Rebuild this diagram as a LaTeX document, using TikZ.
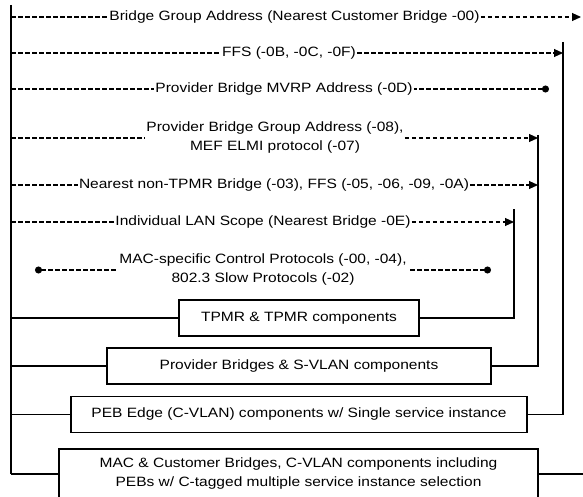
\documentclass[tikz,border=0pt]{standalone}
\usepackage{fontspec}
\setmainfont{Liberation Sans}[FakeStretch=1.15]
\usetikzlibrary{arrows.meta}

\begin{document}
\begin{tikzpicture}[x=1pt, y=-1pt]
\tikzset{every node/.style={font=\fontsize{13.5}{19}\selectfont, align=center},
  addr/.style={inner sep=1pt},
  comp/.style={draw, line width=1.3pt, minimum height=36pt, inner sep=0pt},
  dashline/.style={dash pattern=on 4.5pt off 2.5pt, line width=1.1pt},
  bar/.style={line width=1.8pt},
  arr/.style={-{Triangle[length=9pt, width=8pt]}},
  dotend/.style={{Circle[length=7pt]}-}}

% Normalize bounding box
\useasboundingbox (0,0) rectangle (583,497);
\clip (0,0) rectangle (583,497);

% bars
\coordinate (LT) at (11,5);
\coordinate (LB) at (11,474);
\coordinate (B1) at (514,209);
\coordinate (B2) at (538,135);
\coordinate (B3) at (563,42);
\coordinate (RT) at (581,17);
\coordinate (RB) at (585,474);
\coordinate (MV) at (549,89);
\coordinate (SL) at (35,270);
\coordinate (SR) at (491,270);

% addresses
\node[addr] (BGA) at (294.5,17) {Bridge Group Address (Nearest Customer Bridge -00)};
\node[addr] (FFS) at (289,53) {FFS (-0B, -0C, -0F)};
\node[addr] (MVRP) at (284,89) {Provider Bridge MVRP Address (-0D)};
\node[addr] (PBGA) at (275,138) {Provider Bridge Group Address (-08),\\MEF ELMI protocol (-07)};
\node[addr] (NTPMR) at (274,185) {Nearest non-TPMR Bridge (-03), FFS (-05, -06, -09, -0A)};
\node[addr] (LAN) at (263,222) {Individual LAN Scope (Nearest Bridge -0E)};
\node[addr] (SLOW) at (263,270) {MAC-specific Control Protocols (-00, -04),\\802.3 Slow Protocols (-02)};

% components
\node[comp, minimum width=240pt] (TPMR) at (299,318) {TPMR \& TPMR components};
\node[comp, minimum width=384pt] (PB) at (299,366) {Provider Bridges \& S-VLAN components};
\node[comp, minimum width=456pt] (PEB) at (299,414.5) {PEB Edge (C-VLAN) components w/ Single service instance};
\node[comp, minimum width=479pt, minimum height=50pt] (MAC) at (298.5,474) {MAC \& Customer Bridges, C-VLAN components including\\PEBs w/ C-tagged multiple service instance selection};

\draw[bar] (LT) -- (LB);
\draw[bar] (LB |- TPMR) -- (TPMR.west);
\draw[bar] (LB |- PB) -- (PB.west);
\draw[bar] (LB |- PEB) -- (PEB.west);
\draw[bar] (LB) -- (MAC.west);
\draw[bar] (B1) |- (TPMR.east);
\draw[bar] (B2) |- (PB.east);
\draw[bar] (B3) |- (PEB.east);
\draw[bar] (MAC.east) -- (RB);

\draw[dashline] (LT |- BGA) -- (BGA.west);
\draw[dashline, arr] (BGA.east) -- (RT);
\draw[dashline] (LT |- FFS) -- (FFS.west);
\draw[dashline, arr] (FFS.east) -- (B3 |- FFS);
\draw[dashline] (LT |- MVRP) -- (MVRP.west);
\draw[dashline, dotend] (MV) -- (MVRP.east);
\draw[dashline] (LT |- PBGA) -- (PBGA.west);
\draw[dashline, arr] (PBGA.east) -- (B2 |- PBGA);
\draw[dashline] (LT |- NTPMR) -- (NTPMR.west);
\draw[dashline, arr] (NTPMR.east) -- (B2 |- NTPMR);
\draw[dashline] (LT |- LAN) -- (LAN.west);
\draw[dashline, arr] (LAN.east) -- (B1 |- LAN);
\draw[dashline, dotend] (SL) -- (SLOW.west);
\draw[dashline, dotend] (SR) -- (SLOW.east);

\end{tikzpicture}
\end{document}
